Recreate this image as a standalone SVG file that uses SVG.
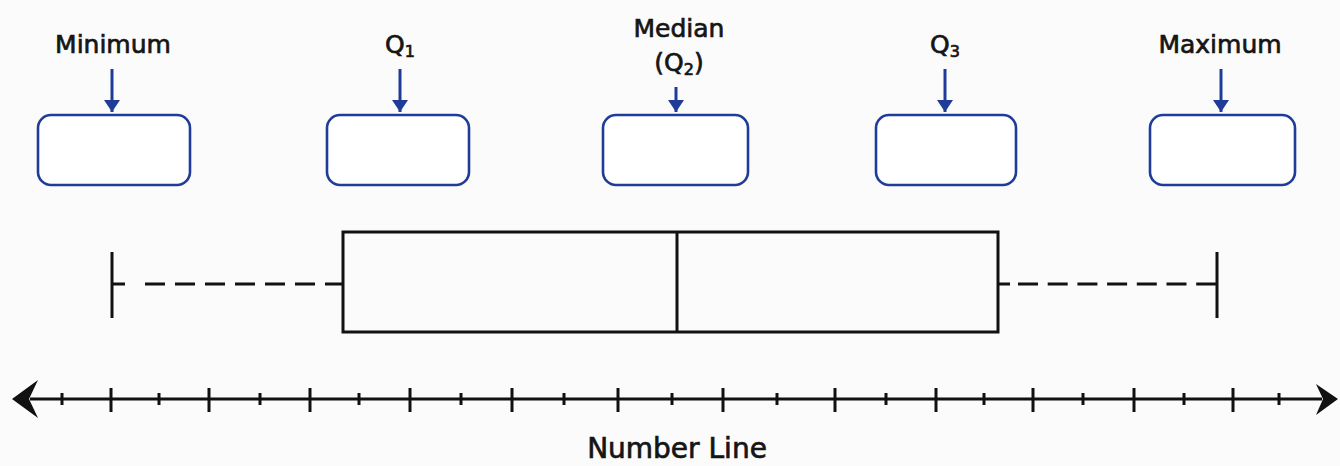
<svg xmlns="http://www.w3.org/2000/svg" width="1340" height="466" viewBox="0 0 1340 466">
  <style>
    .lbl { font-family: "DejaVu Sans", "Liberation Sans", sans-serif; font-size: 25px; fill: #151515; stroke: #151515; stroke-width: 0.7; text-anchor: middle; }
    .sub { font-size: 16px; }
    .node { fill: #ffffff; stroke: #1f3d98; stroke-width: 2.6; }
    .arr { stroke: #1f3d98; stroke-width: 3; fill: none; }
    .plot { stroke: #111111; stroke-width: 3; fill: none; }
    .dash { stroke: #111111; stroke-width: 3; fill: none; }
    .tick { stroke: #111111; stroke-width: 3; }
  </style>
  <defs>
    <marker id="ah" markerUnits="userSpaceOnUse" markerWidth="12" markerHeight="16" refX="12" refY="8" orient="auto">
      <path d="M0,0 L12,8 L0,16 Z" fill="#1f3d98"/>
    </marker>
  </defs>
  <rect width="1340" height="466" fill="#fbfbfb"/>

  <g id="node-minimum">
    <text class="lbl" x="113" y="53">Minimum</text>
    <rect class="node" x="38" y="115" width="152" height="70" rx="13"/>
  </g>
  <g id="node-q1">
    <text class="lbl" x="400" y="53">Q<tspan class="sub" dy="4">1</tspan></text>
    <rect class="node" x="327" y="115" width="142" height="70" rx="13"/>
  </g>
  <g id="node-median">
    <text class="lbl" x="679" y="37">Median</text>
    <text class="lbl" x="679" y="71">(Q<tspan class="sub" dy="4">2</tspan><tspan dy="-4">)</tspan></text>
    <rect class="node" x="603" y="115" width="145" height="70" rx="13"/>
  </g>
  <g id="node-q3">
    <text class="lbl" x="945" y="53">Q<tspan class="sub" dy="4">3</tspan></text>
    <rect class="node" x="876" y="115" width="140" height="70" rx="13"/>
  </g>
  <g id="node-maximum">
    <text class="lbl" x="1220" y="53">Maximum</text>
    <rect class="node" x="1150" y="115" width="145" height="70" rx="13"/>
  </g>

  <g id="connectors">
    <line class="arr" x1="112" y1="69" x2="112" y2="112" marker-end="url(#ah)"/>
    <line class="arr" x1="400" y1="69" x2="400" y2="112" marker-end="url(#ah)"/>
    <line class="arr" x1="676" y1="87" x2="676" y2="112" marker-end="url(#ah)"/>
    <line class="arr" x1="945" y1="69" x2="945" y2="112" marker-end="url(#ah)"/>
    <line class="arr" x1="1221" y1="69" x2="1221" y2="112" marker-end="url(#ah)"/>
  </g>

  <g id="boxplot">
    <line class="plot" x1="112" y1="252" x2="112" y2="318"/>
    <line class="plot" x1="112" y1="284" x2="125" y2="284"/>
    <line class="dash" x1="145" y1="284" x2="342" y2="284" stroke-dasharray="20 10"/>
    <rect class="plot" x="343" y="232" width="655" height="100"/>
    <line class="plot" x1="677" y1="232" x2="677" y2="332"/>
    <line class="plot" x1="998" y1="284" x2="1010" y2="284"/>
    <line class="dash" x1="1018" y1="284" x2="1217" y2="284" stroke-dasharray="20 9.7"/>
    <line class="plot" x1="1217" y1="252" x2="1217" y2="318"/>
  </g>

  <g id="number-line">
    <line class="plot" x1="30" y1="399" x2="1322" y2="399"/>
    <path d="M12,399 L38,380 L29,399 L38,418 Z" fill="#111111"/>
    <path d="M1338,399 L1316,384 L1323,399 L1316,415 Z" fill="#111111"/>
    <g class="tick">
      <line x1="111" y1="388" x2="111" y2="412"/>
      <line x1="209" y1="388" x2="209" y2="412"/>
      <line x1="310" y1="388" x2="310" y2="412"/>
      <line x1="410" y1="388" x2="410" y2="412"/>
      <line x1="512" y1="388" x2="512" y2="412"/>
      <line x1="618" y1="388" x2="618" y2="412"/>
      <line x1="723" y1="388" x2="723" y2="412"/>
      <line x1="835" y1="388" x2="835" y2="412"/>
      <line x1="936" y1="388" x2="936" y2="412"/>
      <line x1="1033" y1="388" x2="1033" y2="412"/>
      <line x1="1134" y1="388" x2="1134" y2="412"/>
      <line x1="1233" y1="388" x2="1233" y2="412"/>
      <line x1="62" y1="393" x2="62" y2="405"/>
      <line x1="159" y1="393" x2="159" y2="405"/>
      <line x1="260" y1="393" x2="260" y2="405"/>
      <line x1="359" y1="393" x2="359" y2="405"/>
      <line x1="461" y1="393" x2="461" y2="405"/>
      <line x1="564" y1="393" x2="564" y2="405"/>
      <line x1="672" y1="393" x2="672" y2="405"/>
      <line x1="777" y1="393" x2="777" y2="405"/>
      <line x1="886" y1="393" x2="886" y2="405"/>
      <line x1="984" y1="393" x2="984" y2="405"/>
      <line x1="1083" y1="393" x2="1083" y2="405"/>
      <line x1="1184" y1="393" x2="1184" y2="405"/>
      <line x1="1279" y1="393" x2="1279" y2="405"/>
    </g>
    <text class="lbl" x="677" y="458" style="font-size:28px">Number Line</text>
  </g>
</svg>
